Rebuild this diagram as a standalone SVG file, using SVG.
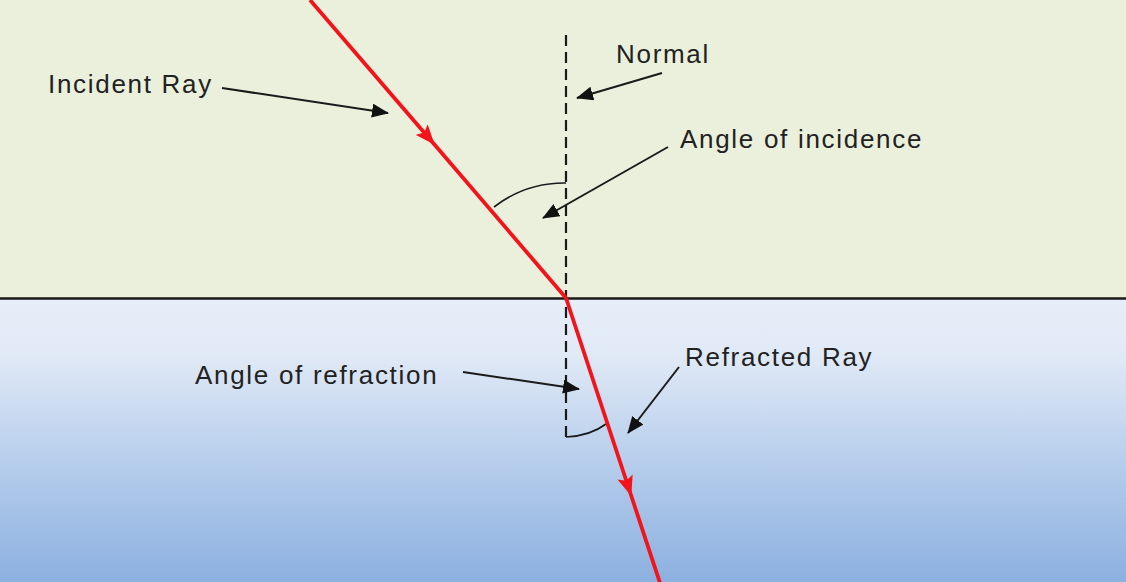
<svg xmlns="http://www.w3.org/2000/svg" width="1126" height="582" viewBox="0 0 1126 582">
  <style>
    .lbl { font-family: "Liberation Sans", Arial, sans-serif; font-size: 26px; fill: #222; letter-spacing: 1.7px; }
    .ptr { stroke: #1a1a1a; stroke-width: 2; fill: none; marker-end: url(#blk); }
    .ray { stroke: #F2141A; stroke-width: 3.8; fill: none; marker-mid: url(#red); }
    .arc { stroke: #1a1a1a; stroke-width: 1.7; fill: none; }
  </style>
  <defs>
    <linearGradient id="water" x1="0" y1="0" x2="0" y2="1">
      <stop offset="0" stop-color="#E7EEF9"/>
      <stop offset="0.2" stop-color="#E0E9F6"/>
      <stop offset="0.6" stop-color="#B4CCEB"/>
      <stop offset="1" stop-color="#8CB0E0"/>
    </linearGradient>
    <marker id="blk" viewBox="0 0 17 14" refX="16" refY="7" markerWidth="17" markerHeight="14" markerUnits="userSpaceOnUse" orient="auto">
      <path d="M0,0 L17,7 L0,14 z" fill="#111"/>
    </marker>
    <marker id="red" viewBox="0 0 20 16" refX="19" refY="8" markerWidth="20" markerHeight="16" markerUnits="userSpaceOnUse" orient="auto">
      <path d="M0,0 L20,8 L0,16 L4,8 z" fill="#F2141A"/>
    </marker>
  </defs>

  <g id="background">
    <rect x="0" y="0" width="1126" height="299" fill="#EAF0DC"/>
    <rect x="0" y="299" width="1126" height="283" fill="url(#water)"/>
  </g>

  <g id="surface">
    <line x1="0" y1="298.5" x2="1126" y2="298.5" stroke="#1a1a1a" stroke-width="2.4"/>
  </g>

  <g id="normal">
    <line x1="566" y1="35" x2="566" y2="438" stroke="#1a1a1a" stroke-width="2.2" stroke-dasharray="11,6"/>
  </g>

  <g id="angles">
    <path class="arc" d="M494,207 A115,115 0 0 1 566,183"/>
    <path class="arc" d="M566,437 Q590,436 606,424"/>
  </g>

  <g id="incident-ray">
    <path class="ray" d="M310,0 L434,144 L566,298"/>
  </g>

  <g id="refracted-ray">
    <path class="ray" d="M566,298 L631,495 L661,586"/>
  </g>

  <g id="connectors">
    <line class="ptr" x1="222" y1="88" x2="388" y2="113"/>
    <line class="ptr" x1="662" y1="73" x2="577" y2="98"/>
    <line class="ptr" x1="668" y1="147" x2="543" y2="218"/>
    <line class="ptr" x1="463" y1="372" x2="579" y2="389"/>
    <line class="ptr" x1="679" y1="367" x2="628" y2="433"/>
  </g>

  <g id="label-incident-ray"><text class="lbl" x="48" y="93">Incident Ray</text></g>
  <g id="label-normal"><text class="lbl" x="616" y="63">Normal</text></g>
  <g id="label-angle-incidence"><text class="lbl" x="680" y="148">Angle of incidence</text></g>
  <g id="label-angle-refraction"><text class="lbl" x="195" y="384">Angle of refraction</text></g>
  <g id="label-refracted-ray"><text class="lbl" x="685" y="366">Refracted Ray</text></g>
</svg>
